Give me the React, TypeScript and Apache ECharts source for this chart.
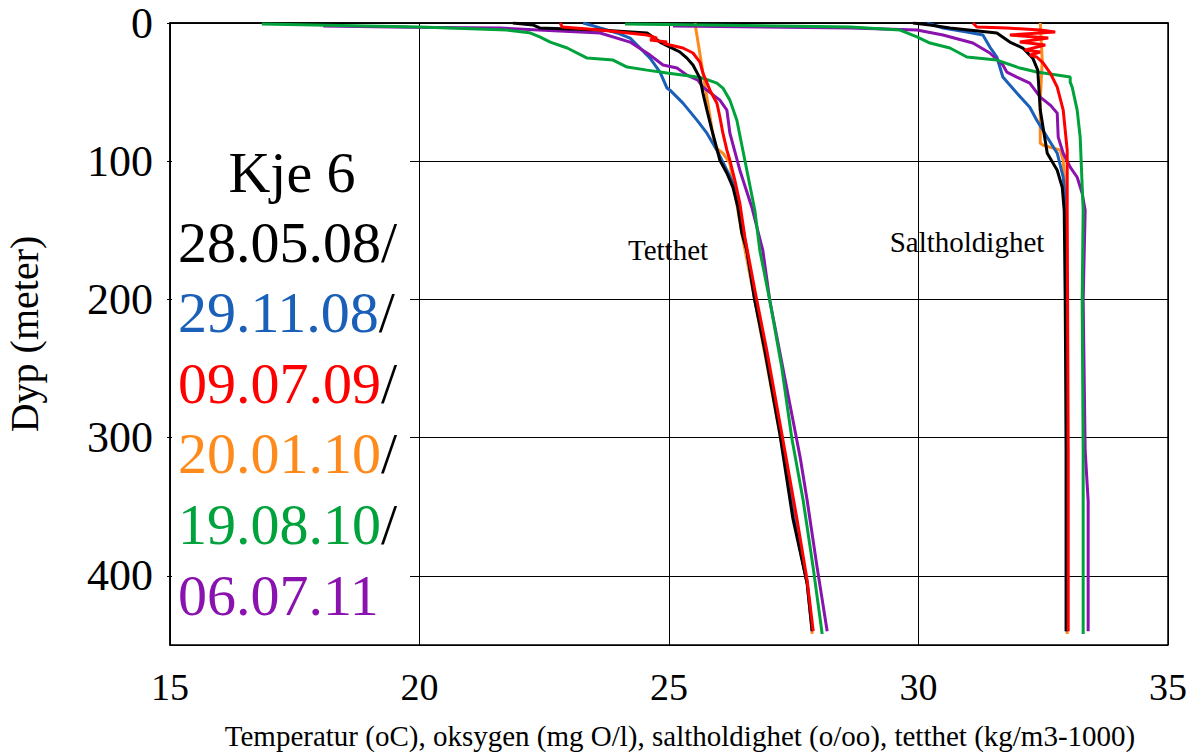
import React, { useEffect, useRef } from "react";
import * as echarts from "echarts";

const FONT = "'Liberation Serif', 'Times New Roman', serif";

// Tick values
const xTicks = [15, 20, 25, 30, 35];
const yTicks = [0, 100, 200, 300, 400];

// Dates and colours
const dates = ["28.05.08", "29.11.08", "09.07.09", "20.01.10", "19.08.10", "06.07.11"];
const colors = ["#000000", "#1a5fb8", "#ff0000", "#ff8a1c", "#00a23c", "#8a12ae"];

// Tetthet (density, kg/m3-1000) : [value, depth]
const tet_280508 = [[21.87,0],[22.27,1.4],[22.41,3.6],[23.62,5.1],[24.56,7.2],[24.82,13.8],[25.02,17.4],[25.22,21],[25.36,25.4],[25.48,30.4],[25.62,39.9],[25.68,50.7],[25.76,63],[25.86,77.5],[26.02,99.3],[26.16,108.7],[26.28,118.8],[26.38,133.3],[26.46,152.2],[26.56,164.5],[26.72,200.7],[26.92,237],[27.22,297],[27.48,358],[27.77,405.8],[27.87,440]];
const tet_291108 = [[23.28,0],[23.42,1.4],[23.62,3.6],[23.96,7.2],[24.22,10.9],[24.42,18.1],[24.62,25.4],[24.82,35.5],[24.96,47.1],[25.02,48.6],[25.28,58],[25.56,70.3],[25.76,79.7],[25.96,92],[26.16,106.5],[26.28,115.9],[26.42,135.5],[26.56,164.5],[26.72,200.7],[26.94,237],[27.24,297],[27.5,358],[27.77,405.8],[27.87,440]];
const tet_090709 = [[22.82,0],[22.86,2.9],[23.62,5.1],[24.56,8.7],[24.76,10.9],[24.62,12.3],[24.96,13.8],[24.88,14.5],[25.02,15.9],[25.28,18.1],[25.48,21.7],[25.62,28.3],[25.68,36.2],[25.82,48.6],[25.96,58],[26.02,68.1],[26.08,79.7],[26.16,92],[26.22,99.3],[26.32,113.8],[26.42,130.4],[26.52,155],[26.76,200.7],[26.96,237],[27.26,297],[27.56,358],[27.77,403.6],[27.89,440]];
const tet_200110 = [[25.52,0],[25.92,89.9],[26.08,94.2],[26.22,101.4],[26.46,152.2],[26.72,200.7],[27.22,297],[27.77,405.8],[27.87,442]];
const tet_190810 = [[16.84,0.7],[20.01,2.9],[21.75,5.1],[22.2,7],[22.41,10.1],[22.62,13.8],[22.96,18.1],[23.36,25.4],[23.88,26.8],[24.16,31.9],[24.56,34.1],[24.96,36.2],[25.56,39.1],[25.68,39.9],[25.96,43.5],[26.08,47.1],[26.22,55.8],[26.36,70.3],[26.52,99.3],[26.72,135.5],[26.82,164.5],[27.02,200.7],[27.26,249.3],[27.46,300],[27.69,345.7],[27.89,394.2],[28.07,442]];
const tet_060711 = [[18.07,2.2],[19.8,3.1],[21.61,3.6],[23.62,7.2],[24.22,13.8],[24.62,23.2],[24.88,30.4],[25.16,32.6],[25.36,37.7],[25.58,41.3],[25.68,46.4],[26.02,55.8],[26.16,63],[26.22,79.7],[26.42,106.5],[26.66,133.3],[26.88,164.5],[27.02,200.7],[27.28,249.3],[27.63,314.5],[27.77,345.7],[27.97,394.2],[28.17,440]];

// Saltholdighet (salinity, o/oo) : [value, depth]
const sal_280508 = [[29.89,0],[30.23,1.4],[30.63,3.6],[31.57,7.2],[31.83,13.8],[32.09,18.1],[32.29,25.4],[32.39,34.1],[32.44,63],[32.58,94.2],[32.78,106.5],[32.88,118.8],[32.92,135.5],[32.94,200.7],[32.96,309],[32.96,440]];
const sal_291108 = [[30.17,0],[30.49,3.6],[30.97,6.5],[31.29,8.7],[31.43,17.4],[31.57,24.6],[31.69,39.1],[31.97,50.7],[32.23,60.9],[32.37,70.3],[32.58,82.6],[32.78,94.2],[32.9,111.6],[32.96,135.5],[32.96,309],[32.96,440]];
const sal_090709 = [[31.09,0],[31.17,2.9],[31.77,3.6],[32.44,5.1],[32.74,6.5],[31.83,8.7],[32.6,10.9],[32.03,13.8],[32.54,15.9],[32.13,19.6],[32.44,21],[32.23,23.2],[32.37,24.6],[32.5,29],[32.64,36.2],[32.78,46.4],[32.9,63],[32.98,92],[32.98,135.5],[33.0,309],[33.0,440]];
const sal_200110 = [[32.44,0],[32.48,26.8],[32.44,55.8],[32.44,87],[32.5,88.4],[32.84,92],[32.9,99.3],[32.96,135.5],[32.98,442]];
const sal_190810 = [[24.12,0.7],[28.63,2.9],[29.63,5.1],[29.97,10.1],[30.23,14.5],[30.63,18.1],[30.97,24.6],[31.57,26.8],[32.03,32.6],[32.37,35.5],[33.04,39.1],[33.04,42.8],[33.08,46.4],[33.18,63],[33.24,82.6],[33.3,135.5],[33.28,200.7],[33.3,309],[33.3,442]];
const sal_060711 = [[25.08,2.2],[28.63,3.6],[29.97,5.1],[30.49,8.7],[31.09,14.5],[31.43,21.7],[31.69,30.4],[31.77,35.5],[31.97,39.1],[32.23,43.5],[32.44,53.6],[32.64,59.4],[32.78,65.2],[32.8,82.6],[32.9,94.2],[33.04,104.3],[33.18,111.6],[33.28,123.2],[33.34,135.5],[33.3,200.7],[33.34,309.4],[33.4,345.7],[33.4,440]];

const tetthet = [tet_280508, tet_291108, tet_090709, tet_200110, tet_190810, tet_060711];
const salt = [sal_280508, sal_291108, sal_090709, sal_200110, sal_190810, sal_060711];

// drawing order (bottom to top): orange, blue, purple, green, black, red
const drawOrder = [3, 1, 5, 4, 0, 2];

export default function App() {
  const ref = useRef<HTMLDivElement>(null);

  useEffect(() => {
    if (!ref.current) return;
    const chart = echarts.init(ref.current, null, { renderer: "svg" });

    const series: any[] = [];
    drawOrder.forEach((i, k) => {
      [tetthet[i], salt[i]].forEach((d, j) => {
        series.push({
          type: "line",
          name: dates[i] + (j === 0 ? " tetthet" : " saltholdighet"),
          data: d,
          showSymbol: false,
          symbol: "none",
          silent: true,
          z: 2 + k,
          lineStyle: { width: 3, color: colors[i] },
          itemStyle: { color: colors[i] },
        });
      });
    });

    const dateTexts = dates.map((d, i) => ({
      type: "text",
      z: 20,
      x: 178,
      y: 242 + i * 70.6,
      style: {
        text: i < dates.length - 1 ? `{c${i}|${d}}{s|/}` : `{c${i}|${d}}`,
        font: `58px ${FONT}`,
        verticalAlign: "middle",
        align: "left",
        rich: {
          [`c${i}`]: { fill: colors[i], fontSize: 58, fontFamily: FONT },
          s: { fill: "#000", fontSize: 58, fontFamily: FONT },
        },
      },
    }));

    chart.setOption({
      animation: false,
      backgroundColor: "#fff",
      grid: {
        left: 170,
        top: 23,
        right: 27,
        bottom: 110,
        show: true,
        borderColor: "#000",
        borderWidth: 1.5,
        containLabel: false,
        outerBoundsMode: "none",
      },
      xAxis: {
        type: "value",
        min: xTicks[0],
        max: xTicks[xTicks.length - 1],
        interval: 5,
        name: "Temperatur (oC), oksygen (mg O/l), saltholdighet (o/oo), tetthet (kg/m3-1000)",
        nameLocation: "middle",
        nameGap: 76,
        nameTextStyle: { fontFamily: FONT, fontSize: 29, color: "#000", padding: [0, 0, 0, 22] },
        axisLine: { show: true, lineStyle: { color: "#000", width: 1.5 } },
        axisTick: { show: false },
        axisLabel: { fontFamily: FONT, fontSize: 38, color: "#000", margin: 23 },
        splitLine: { show: true, lineStyle: { color: "#000", width: 1 } },
      },
      yAxis: {
        type: "value",
        inverse: true,
        min: yTicks[0],
        max: 450,
        interval: 100,
        name: "Dyp (meter)",
        nameLocation: "middle",
        nameGap: 126,
        nameRotate: 90,
        nameTextStyle: { fontFamily: FONT, fontSize: 40, color: "#000" },
        axisLine: { show: true, lineStyle: { color: "#000", width: 1.5 } },
        axisTick: { show: true, length: 3, lineStyle: { color: "#000" } },
        axisLabel: { fontFamily: FONT, fontSize: 44, color: "#000", margin: 17, showMaxLabel: false },
        splitLine: { show: true, lineStyle: { color: "#000", width: 1 } },
      },
      graphic: [
        {
          type: "rect",
          z: 10,
          shape: { x: 172, y: 130, width: 238, height: 513 },
          style: { fill: "#fff" },
          silent: true,
        },
        {
          type: "text",
          z: 20,
          x: 292,
          y: 172,
          style: { text: "Kje 6", font: `58px ${FONT}`, fill: "#000", align: "center", verticalAlign: "middle" },
        },
        ...dateTexts,
        {
          type: "text",
          z: 20,
          x: 668,
          y: 250,
          style: { text: "Tetthet", font: `29px ${FONT}`, fill: "#000", align: "center", verticalAlign: "middle" },
        },
        {
          type: "text",
          z: 20,
          x: 967,
          y: 242,
          style: { text: "Saltholdighet", font: `29px ${FONT}`, fill: "#000", align: "center", verticalAlign: "middle" },
        },
      ],
      series,
    });

    return () => chart.dispose();
  }, []);

  return (
    <div
      ref={ref}
      style={{ position: "absolute", left: 0, top: 0, width: 1195, height: 755 }}
    />
  );
}
